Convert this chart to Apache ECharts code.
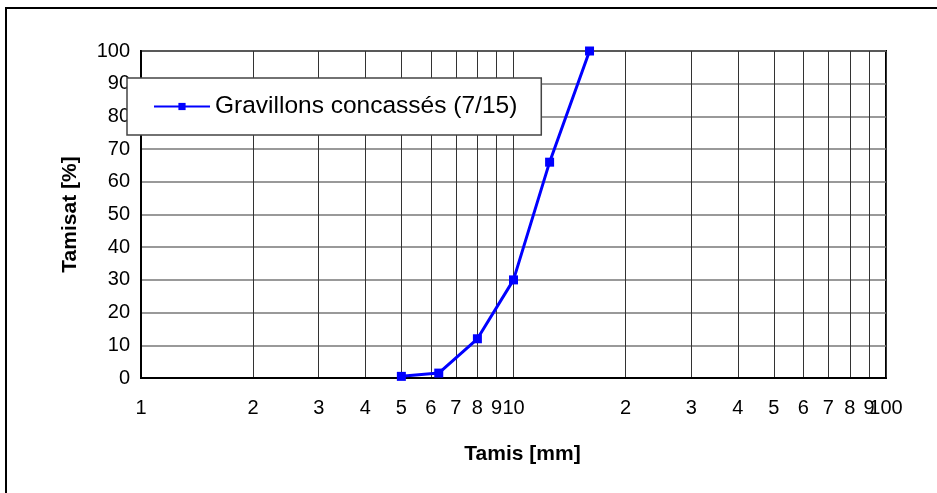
<!DOCTYPE html>
<html>
<head>
<meta charset="utf-8">
<script src="https://cdn.jsdelivr.net/npm/echarts@6/dist/echarts.min.js"></script>
<style>
html,body{margin:0;padding:0;background:#fff}
#main{width:937px;height:493px}
</style>
</head>
<body>
<div id="main"></div>
<script>
// tamis (mm) et tamisat (%)
var tamis = [5, 6.3, 8, 10, 12.5, 16]
var tamisat = [0.5, 1.5, 12, 30, 66, 100]
var serieNom = 'Gravillons concassés (7/15)'
var xTicks = [1, 2, 3, 4, 5, 6, 7, 8, 9, 10, 20, 30, 40, 50, 60, 70, 80, 90, 100]
var xLabels = [1, 2, 3, 4, 5, 6, 7, 8, 9, 10, 20, 30, 40, 50, 60, 70, 80, 90]

var chart = echarts.init(document.getElementById('main'))
var points = []
for (var i = 0; i < tamis.length; i++) {
	points.push([tamis[i], tamisat[i]])
}
var font = 'Liberation Sans, Arial, sans-serif'
function tamisLabel(v) {
	if (Math.abs(v - 1) < 1e-6 || Math.abs(v - 10) < 1e-6 || Math.abs(v - 100) < 1e-6) return String(Math.round(v))
	return String(Math.round(v / Math.pow(10, Math.floor(Math.log10(v) + 1e-9))))
}
var option = {
	animation: false,
	textStyle: { fontFamily: font },
	grid: { left: 141, right: 51, top: 51, bottom: 115, show: true, borderColor: '#000', borderWidth: 2 },
	graphic: [{
		type: 'rect',
		shape: { x: 6, y: 8, width: 960, height: 520 },
		style: { fill: 'none', stroke: '#000', lineWidth: 2 },
		z: -1
	}],
	legend: {
		left: 127, top: 78,
		padding: [16, 24, 16, 26],
		backgroundColor: '#fff',
		borderColor: '#444', borderWidth: 1.5,
		itemWidth: 56, itemHeight: 9,
		textStyle: { fontSize: 24.5, color: '#000', fontFamily: font },
		data: [serieNom]
	},
	xAxis: [{
		type: 'log',
		logBase: 10,
		min: 1, max: 100,
		name: 'Tamis [mm]',
		nameLocation: 'middle',
		nameGap: 66,
		nameTextStyle: { fontSize: 21, fontWeight: 'bold', color: '#000', padding: [0, 0, 0, 18] },
		axisLine: { lineStyle: { color: '#000', width: 2 } },
		axisTick: { show: false, customValues: xTicks },
		axisLabel: {
			customValues: xLabels,
			showMinLabel: true, hideOverlap: false,
			margin: 20, fontSize: 20, color: '#000',
			formatter: tamisLabel
		},
		splitLine: { show: true, lineStyle: { color: '#333', width: 1 } }
	}, {
		// second axe, seulement pour l'étiquette 100
		type: 'log',
		logBase: 10,
		min: 1, max: 100,
		position: 'bottom',
		axisLine: { show: false },
		axisTick: { show: false },
		splitLine: { show: false },
		axisLabel: {
			customValues: [100],
			showMaxLabel: true,
			margin: 20, fontSize: 20, color: '#000',
			formatter: tamisLabel
		}
	}],
	yAxis: {
		type: 'value',
		min: 0, max: 100, interval: 10,
		name: 'Tamisat [%]',
		nameLocation: 'middle',
		nameGap: 60,
		nameTextStyle: { fontSize: 21, fontWeight: 'bold', color: '#000' },
		axisLine: { show: true, lineStyle: { color: '#000', width: 2 } },
		axisTick: { show: false },
		axisLabel: { margin: 11, fontSize: 20, color: '#000' },
		splitLine: { show: true, lineStyle: { color: '#777', width: 1.5 } }
	},
	series: [{
		name: serieNom,
		type: 'line',
		data: points,
		symbol: 'rect',
		symbolSize: 9,
		lineStyle: { color: '#0000ff', width: 3 },
		itemStyle: { color: '#0000ff' }
	}]
}
chart.setOption(option)
</script>
</body>
</html>
